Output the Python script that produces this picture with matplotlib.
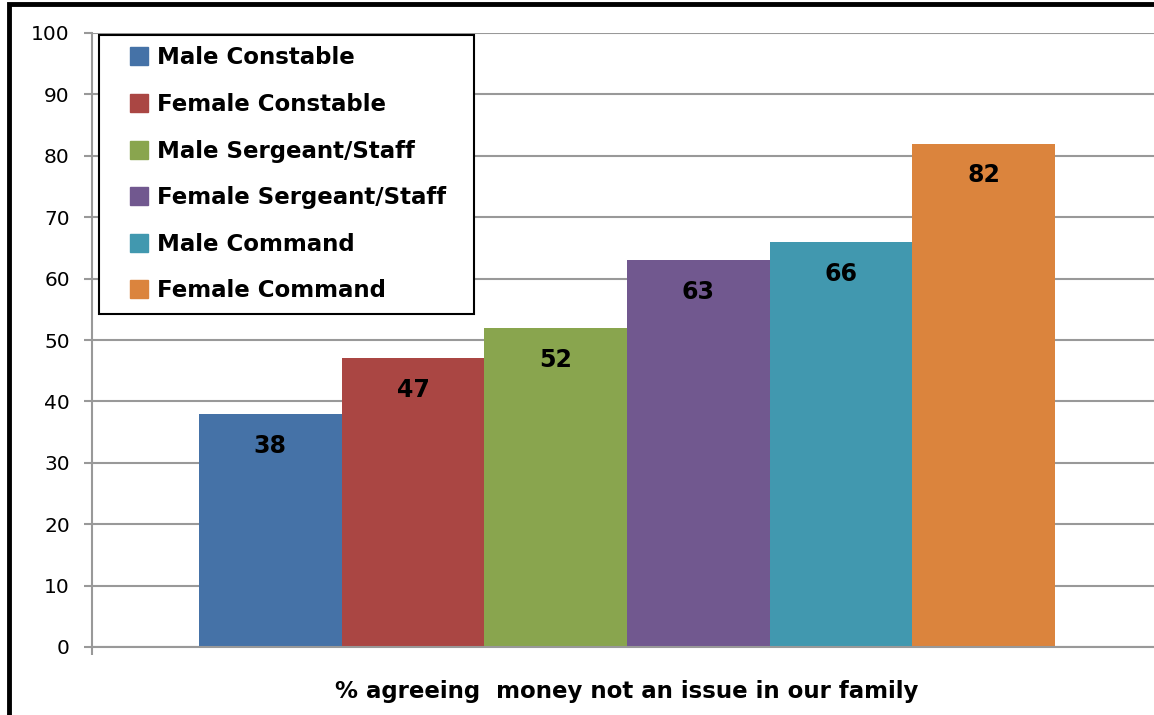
import matplotlib.pyplot as plt
from matplotlib.patches import Rectangle
from matplotlib.lines import Line2D
import numpy as np

groups = ["Male Constable", "Female Constable", "Male Sergeant/Staff",
          "Female Sergeant/Staff", "Male Command", "Female Command"]
values = [38, 47, 52, 63, 66, 82]
colors = ["#4572A7", "#AA4643", "#89A54E", "#71588F", "#4198AF", "#DB843D"]
xlabel = "% agreeing  money not an issue in our family"

plt.rcParams["font.family"] = ["DejaVu Sans"]

fig = plt.figure(figsize=(11.54, 7.15), dpi=100)
ax = fig.add_axes([92 / 1154, 1 - 647 / 715, 1070 / 1154, 614 / 715])

n = len(values)
width = 0.8 / n
for i, (g, v, c) in enumerate(zip(groups, values, colors)):
    xpos = -0.4 + width * (i + 0.5)
    ax.bar(xpos, v, width=width, color=c, zorder=2)
    ax.annotate(str(v), (xpos, v), xytext=(0, -23), textcoords="offset points",
                ha="center", va="center", fontsize=17, fontweight="bold", zorder=3)

ax.set_xlim(-0.5, 0.5)
ax.set_ylim(0, 100)
ax.set_yticks(np.arange(0, 101, 10))
ax.set_xticks([-0.5])
ax.set_xticklabels([""])
ax.tick_params(axis="y", labelsize=14.5, length=6, width=1.5, color="#999999", pad=10)
ax.tick_params(axis="x", length=6, width=1.5, color="#999999")
ax.grid(axis="y", color="#999999", linewidth=1.5, zorder=0)
ax.set_axisbelow(True)
for s in ["top", "right"]:
    ax.spines[s].set_visible(False)
for s in ["left", "bottom"]:
    ax.spines[s].set_color("#999999")
    ax.spines[s].set_linewidth(1.5)

ax.set_xlabel(xlabel, fontsize=16.5, fontweight="bold", labelpad=14)

# squares drawn as markers so the box gets the wide left margin
handles = [Line2D([], [], linestyle="none", marker="s", markersize=13,
                  markerfacecolor=c, markeredgecolor=c) for c in colors]
leg = ax.legend(handles, [g + "  " for g in groups], loc="upper left",
                bbox_to_anchor=(7 / 1070, 1 - 2 / 614),
                fancybox=False, edgecolor="black", framealpha=1,
                prop={"size": 16.5, "weight": "bold"},
                handlelength=2.49, labelspacing=1.03, borderpad=0.5,
                handletextpad=-0.46, borderaxespad=0)
leg.get_frame().set_linewidth(1.5)

fig.patches.append(Rectangle((9 / 1154, -0.1), 1.2, 1 - 4 / 715 + 0.1, transform=fig.transFigure,
                             fill=False, edgecolor="black", linewidth=3.5))

fig.savefig("out.png", dpi=100)
